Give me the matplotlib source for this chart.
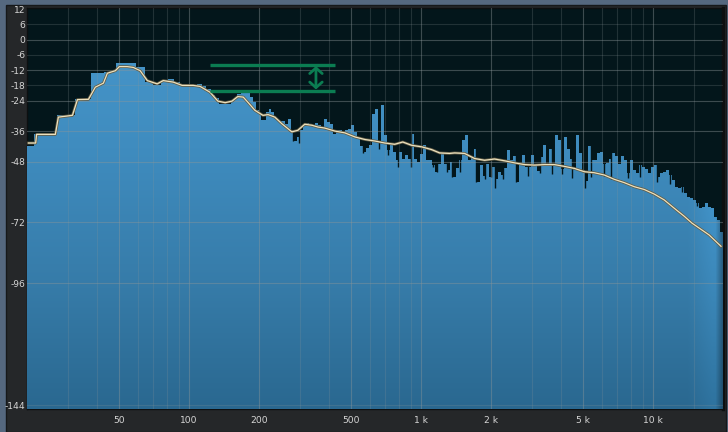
#!/usr/bin/python3

###############################################
#
# global reqs
#
###############################################

import matplotlib
matplotlib.use("Agg")
import matplotlib.pyplot as plt
from matplotlib.colors import LinearSegmentedColormap
from matplotlib.patches import Rectangle
import numpy as np

###############################################
#
# data
#
###############################################

# fft bin width of the analyzer (44.1 kHz / 8192 points)
bin_hz = 44100.0 / 8192
first_bin = 3

# low fft bins, one level per bin (dB)
low_bins_db = [-42.0, -37.0, -29.8, -23.5, -13.2, -12.8, -9.3, -9.3, -10.9, -16.5,
               -18.0, -15.8, -15.4, -16.7, -18.0, -18.0, -18.0, -17.4, -18.4, -19.3,
               -21.6, -23.0, -25.2, -25.2, -25.2, -24.0, -22.9, -21.5, -21.0, -21.0,
               -21.0, -22.6, -24.6, -27.6, -29.1, -31.5, -31.5, -28.5, -27.2, -28.5,
               -30.5]

# higher up the display shows one bar per narrow log band (dB)
band_stop_hz = 20000.0
band_db = [-31.8, -32.0, -32.0, -33.1, -31.4, -35.7, -40.0, -38.5, -35.7, -33.5,
           -32.8, -33.7, -33.7, -33.0, -33.5, -34.5, -31.1, -32.4, -33.3, -37.0,
           -35.7, -35.7, -36.3, -35.5, -35.0, -33.7, -36.3, -38.3, -42.0, -44.2,
           -42.7, -41.6, -29.2, -27.2, -40.3, -25.9, -37.6, -43.5, -41.6, -44.2,
           -47.5, -44.2, -46.8, -45.5, -47.0, -37.0, -46.8, -48.1, -45.1, -41.6,
           -47.5, -47.5, -49.4, -52.0, -48.8, -45.0, -48.8, -51.4, -48.1, -54.0,
           -50.5, -47.5, -39.6, -37.6, -47.5, -46.1, -42.9, -56.0, -49.4, -53.5,
           -49.0, -54.0, -50.0, -55.0, -52.0, -53.3, -50.7, -43.5, -47.5, -46.0,
           -56.0, -49.4, -45.5, -50.0, -50.0, -45.5, -49.0, -51.8, -46.1, -41.6,
           -49.0, -42.9, -49.4, -37.6, -39.6, -51.0, -38.2, -43.0, -46.8, -50.5,
           -37.6, -44.7, -51.4, -55.5, -42.0, -47.5, -47.5, -44.7, -44.2, -49.0,
           -48.5, -47.0, -44.7, -46.0, -49.0, -46.0, -47.5, -52.7, -47.5, -51.4,
           -52.7, -49.4, -50.0, -51.0, -52.7, -50.0, -49.4, -54.0, -52.7, -52.0,
           -51.4, -53.3, -55.3, -57.9, -58.5, -58.0, -60.5, -61.8, -62.5, -63.1,
           -64.4, -66.4, -65.8, -64.4, -65.8, -66.4, -69.7, -71.0, -75.6]

# single-line notches cut into the bars
dip_hz = [280, 297, 562, 658, 719, 795, 904, 1125, 1170, 1292,
          1358, 1470, 1723, 1884, 2000, 2080, 2253, 2564, 2888, 3253,
          3664, 4046, 4467, 5085, 5395, 6138, 6580, 7790, 8774, 10390,
          11820, 13310, 15450]
dip_db = [-40.0, -40.5, -44.5, -43.0, -45.5, -50.0, -50.0, -50.0, -52.0, -52.0,
          -54.0, -52.0, -56.0, -55.0, -54.0, -58.5, -55.0, -56.0, -53.5, -52.5,
          -53.0, -53.0, -54.5, -58.5, -54.0, -53.5, -55.0, -54.5, -54.0, -56.0,
          -57.0, -60.0, -65.5]

# smoothed spectrum curve
curve_hz = [20.3, 21.8, 22.0, 26.5, 27.3, 31.4, 33.0, 36.8, 39.4, 42.7,
            44.4, 48.1, 50.0, 54.1, 57.4, 61.5, 66.0, 72.8, 77.3, 85.4,
            93.3, 104, 111.5, 123, 133, 143, 153, 162, 171, 179,
            192, 208, 219, 234, 251, 277, 294, 315, 338, 359,
            384, 425, 469, 518, 571, 631, 697, 769, 833, 910,
            1005, 1110, 1201, 1326, 1394, 1539, 1699, 1876, 2071, 2287,
            2525, 2787, 3078, 3398, 3752, 4142, 4573, 5049, 5575, 6155,
            6797, 7504, 8285, 9148, 10100, 11150, 12560, 13590, 14720, 17410,
            19610]
curve_db = [-40.7, -40.7, -37.3, -37.3, -30.5, -29.8, -23.6, -23.5, -18.7, -17.1,
            -13.2, -12.2, -10.6, -10.6, -10.9, -12.2, -16.1, -17.4, -16.1, -16.7,
            -18.0, -18.0, -18.4, -20.7, -24.2, -24.8, -24.2, -22.4, -22.6, -24.6,
            -27.8, -29.8, -29.5, -30.5, -33.1, -36.3, -35.7, -33.3, -33.7, -34.4,
            -34.8, -36.0, -36.7, -38.3, -39.3, -39.9, -40.7, -41.2, -40.3, -41.6,
            -42.2, -43.3, -44.6, -44.8, -44.6, -44.8, -46.8, -47.5, -47.0, -47.7,
            -48.5, -49.2, -49.4, -49.2, -49.2, -49.9, -50.7, -52.0, -52.4, -53.3,
            -55.0, -56.3, -57.9, -59.0, -60.8, -63.1, -67.0, -69.5, -72.3, -76.9,
            -81.4]

# axis ticks
y_ticks = [12, 6, 0, -6, -12, -18, -24, -36, -48, -72, -96, -144]
y_bright = [0, -12, -24, -36, -48, -72, -96]
x_label_hz = [50, 100, 200, 500, 1000, 2000, 5000, 10000]
x_label_text = ["50", "100", "200", "500", "1 k", "2 k", "5 k", "10 k"]
x_grid_hz = [30, 40, 50, 60, 70, 80, 90, 100, 200, 300, 400, 500, 600, 700, 800, 900,
             1000, 2000, 3000, 4000, 5000, 6000, 7000, 8000, 9000, 10000, 15000]

# green level-difference marker
marker_hz = [123, 425]
marker_db = [-9.8, -20.4]
marker_arrow_hz = 352

###############################################
#
# figure
#
###############################################

W, H = 728, 432
bg = "#03161b"
fig = plt.figure(figsize=(W / 100, H / 100), dpi=100, facecolor="#55687f")

# dark panel behind the scale labels
panel = Rectangle((6 / W, 0), 720 / W, 427 / H, transform=fig.transFigure,
                  facecolor="#252729", edgecolor="#16181a", lw=1.0, zorder=-10)
fig.patches.append(panel)

ax = fig.add_axes([27 / W, 23 / H, 696 / W, 401 / H])
ax.set_zorder(1)
ax.set_facecolor(bg)
ax.set_xscale("log")

# bar edges: fft bins at the bottom, log bands above
low_edges = (first_bin + np.arange(len(low_bins_db) + 1)) * bin_hz
band_edges = np.geomspace(low_edges[-1], band_stop_hz, len(band_db) + 1)
edges = np.concatenate([low_edges[:-1], band_edges])
levels = np.array(low_bins_db + band_db)

spec = ax.stairs(levels, edges, baseline=-145.5, fill=True, facecolor="#3f8cbf",
                 edgecolor="none", zorder=2)

# blue gradient clipped to the spectrum
cmap = LinearSegmentedColormap.from_list("spec", [(0.0, "#2a6890"), (0.3, "#367ba8"),
                                                  (0.65, "#3f8cbf"), (1.0, "#4898cc")])
rows = np.linspace(0, 1, 256)[:, None]
cols = np.linspace(0, 1, 700)[None, :]
shade = 1 + 0.10 * np.clip((cols - 0.95) / 0.035, 0, 1) - 0.35 * np.clip((cols - 0.99) / 0.01, 0, 1)
img = cmap(rows * np.ones_like(cols))
img[..., :3] = np.clip(img[..., :3] * shade[..., None], 0, 1)
im = ax.imshow(img, extent=[0, 1, 0, 1], transform=ax.transAxes, origin="lower",
               aspect="auto", interpolation="bilinear", zorder=3)
im.set_clip_path(spec)

# notches
ax.vlines(dip_hz, dip_db, -20, color=bg, lw=1.0, zorder=3.5)

ax.set_xlim(20, 20000)
ax.set_ylim(-145.5, 12.5)

# grid on top, faint
for f in x_grid_hz:
    a = 0.42 if f in x_label_hz else 0.22
    ax.axvline(f, color="#8c9699", lw=0.8, alpha=a, zorder=4)
for d in y_ticks[1:]:
    a = 0.42 if d in y_bright else 0.22
    ax.axhline(d, color="#8c9699", lw=0.8, alpha=a, zorder=4)

# smoothed curve
ax.plot(curve_hz, curve_db, color="#615a43", lw=2.0, zorder=5)
ax.plot(curve_hz, curve_db, color="#ece2bf", lw=0.9, zorder=6)

# green marker
green = "#0b7d52"
ax.hlines(marker_db, marker_hz[0], marker_hz[1], color=green, lw=2.4, zorder=7)
ax.annotate("", xy=(marker_arrow_hz, marker_db[1] + 0.8), xytext=(marker_arrow_hz, marker_db[0] - 0.6),
            arrowprops=dict(arrowstyle="<->,head_length=0.4,head_width=0.45", color=green, lw=2.0,
                            shrinkA=0, shrinkB=0, mutation_scale=10), zorder=7)

# scales
ax.set_yticks(y_ticks)
ax.set_yticklabels([str(t) for t in y_ticks])
ax.set_xticks(x_label_hz)
ax.set_xticklabels(x_label_text)
ax.minorticks_off()
ax.tick_params(axis="both", length=0, colors="#d6d6d6", labelsize=6.6)
ax.tick_params(axis="y", pad=1)
ax.tick_params(axis="x", pad=5)

for s in ax.spines.values():
    s.set_color("#0d0f10")
    s.set_linewidth(1.0)
ax.spines["right"].set_linewidth(2.5)

plt.savefig("out.png", dpi=100, facecolor=fig.get_facecolor())
plt.close()
